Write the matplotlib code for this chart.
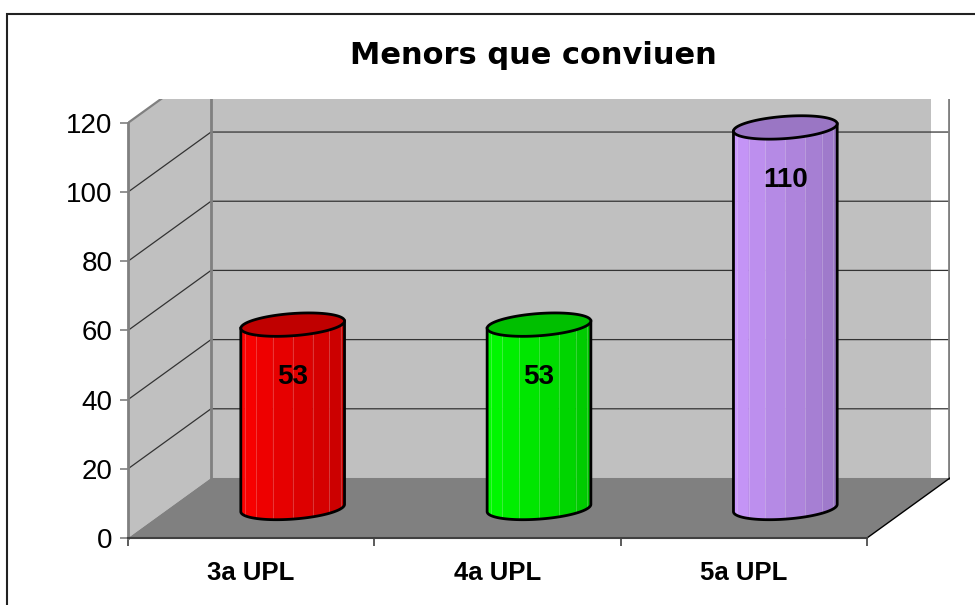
import numpy as np
import matplotlib.pyplot as plt
from matplotlib.patches import Polygon, Rectangle
from matplotlib.colors import to_rgb

categories = ['3a UPL', '4a UPL', '5a UPL']
values = [53, 53, 110]
light = ['#ff0000', '#00ff00', '#cc99ff']
dark = ['#c40000', '#00c400', '#9775c2']
tops = ['#c00000', '#00bf00', '#9a76c4']
yticks = [0, 20, 40, 60, 80, 100, 120]
title = 'Menors que conviuen'

plt.rcParams['font.family'] = ['Liberation Sans', 'DejaVu Sans']

#oblique depth of the 3d box (data units)
DX, DY = 0.337, 17.35
YTOP = 126.9
a = 0.2     #cylinder radius along x
rd = 0.195  #cylinder radius along depth, fraction of depth
wallc = '#c0c0c0'
floorc = '#808080'
edgec = '#808080'

fig = plt.figure(figsize=(9.75, 6.05), dpi=100)
ax = fig.add_axes([128/975, 67/605, 822/975, 439/605])
n = len(categories)
x0, x1 = -0.5, n - 0.5
ymax = yticks[-1]
ax.set_xlim(x0, x1 + DX)
ax.set_ylim(0, YTOP)

#walls and floor
ax.add_patch(Polygon([(x0, 0), (x0+DX, DY), (x0+DX, ymax+DY), (x0, ymax)],
                     closed=True, fc=wallc, ec='none', zorder=0))
ax.add_patch(Polygon([(x0+DX, DY), (x1+DX-0.077, DY), (x1+DX-0.077, ymax+DY), (x0+DX, ymax+DY)],
                     closed=True, fc=wallc, ec='none', zorder=0))
ax.add_patch(Polygon([(x0, 0), (x1, 0), (x1+DX, DY), (x0+DX, DY)],
                     closed=True, fc=floorc, ec='none', zorder=1))
for v in yticks[1:-1]:
    ax.plot([x0, x0+DX, x1+DX], [v, v+DY, v+DY], color='#333333', lw=0.9, zorder=2)
ax.plot([x0, x0+DX], [ymax, ymax+DY], color=edgec, lw=1.6, zorder=2)
ax.plot([x0+DX, x0+DX], [DY, ymax+DY], color=edgec, lw=2, zorder=2)
ax.plot([x1+DX-0.004, x1+DX-0.004], [DY, ymax+DY], color=edgec, lw=2, zorder=2)
ax.plot([x1, x1+DX], [0, DY], color='black', lw=1, zorder=2)

#cylinders
t0 = np.arctan(DX*rd/a)

def ring(i, v, t):
    t = np.asarray(t)
    x = i + a*np.cos(t) + DX*(0.5 + rd*np.sin(t))
    y = v + DY*(0.5 + rd*np.sin(t))
    return x, y

nf = 8
edges = np.linspace(t0+np.pi, t0+2*np.pi, nf+1)
for i, v in enumerate(values):
    z = 3 + i
    c1, c2 = np.array(to_rgb(light[i])), np.array(to_rgb(dark[i]))
    for k in range(nf):
        ts = np.linspace(edges[k], edges[k+1], 5)
        bx, by = ring(i, 0, ts)
        tx, ty = ring(i, v, ts[::-1])
        s = k / (nf - 1)
        col = c1*(1-s) + c2*s
        ax.add_patch(Polygon(np.column_stack([np.r_[bx, tx], np.r_[by, ty]]),
                             closed=True, fc=col, ec=col, lw=0.4, zorder=z))
        if k > 0:
            ax.plot([bx[0], bx[0]], [by[0], ring(i, v, ts[0])[1]], color='white',
                    alpha=0.25, lw=0.6, zorder=z)
    tf = np.linspace(t0+np.pi, t0+2*np.pi, 80)
    bx, by = ring(i, 0, tf)
    lx, ly = ring(i, v, tf[0])
    rx, ry = ring(i, v, tf[-1])
    ax.plot(np.r_[lx, bx, rx], np.r_[ly, by, ry], color='black', lw=2,
            solid_joinstyle='round', zorder=z)
    ta = np.linspace(0, 2*np.pi, 120)
    ex, ey = ring(i, v, ta)
    ax.add_patch(Polygon(np.column_stack([ex, ey]), closed=True, fc=tops[i],
                         ec='black', lw=2, zorder=z))
    ax.annotate(str(v), xy=(i + 0.5*DX, v + 0.5*DY), xytext=(0, -37.5),
                textcoords='offset points', ha='center', va='center',
                fontsize=20, fontweight='bold', zorder=10)

#axes
for s in ['top', 'right']:
    ax.spines[s].set_visible(False)
ax.spines['left'].set_bounds(0, ymax)
ax.spines['left'].set_color(edgec)
ax.spines['left'].set_linewidth(2)
ax.spines['bottom'].set_bounds(x0, x1)
ax.spines['bottom'].set_color('#404040')
ax.spines['bottom'].set_linewidth(1.5)
ax.set_yticks(yticks)
ax.tick_params(axis='y', length=6, width=1.2, color=edgec, pad=5, labelsize=20)
ax.set_xticks(np.arange(x0, x1 + 0.5, 1.0))
ax.set_xticklabels([])
ax.set_xticks(range(n), minor=True)
ax.set_xticklabels(categories, minor=True, fontsize=18.5, fontweight='bold')
ax.tick_params(axis='x', which='major', length=6, width=1.2, color='#404040')
ax.tick_params(axis='x', which='minor', length=0, pad=16.5)

fig.text(533/975, 1 - 64/605, title, ha='center', va='baseline', fontsize=22,
         fontweight='bold', family='DejaVu Sans')
fig.add_artist(Rectangle((7/975, -0.05), 1.1, 1 - 14/605 + 0.05, transform=fig.transFigure,
                         fill=False, ec='#222222', lw=1.5))

fig.savefig('out.png', dpi=100)
